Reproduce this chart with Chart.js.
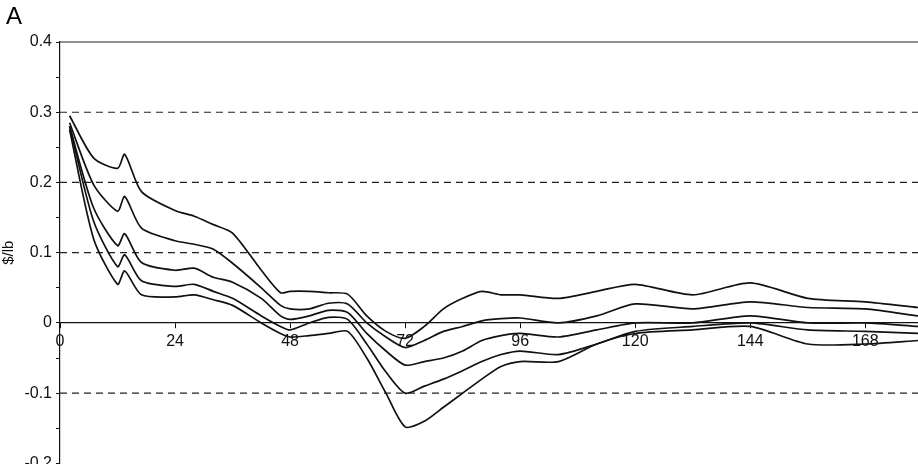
<!DOCTYPE html>
<html>
<head>
<meta charset="utf-8">
<script src="https://cdn.jsdelivr.net/npm/chart.js@4"></script>
<style>
  html, body { margin: 0; padding: 0; background: #fff; overflow: hidden; }
  #wrap { position: relative; width: 918px; height: 464px; overflow: hidden; }
  #lbl { position: absolute; left: 6px; top: 2px; font: 24px "Liberation Sans", Arial, sans-serif; }
</style>
</head>
<body>
<div id="wrap">
  <div id="lbl">A</div>
  <canvas id="c" width="918" height="477"></canvas>
</div>
<script>
const hours = [2, 7, 12, 13.5, 17, 24, 28, 32, 36, 42, 46, 48, 52, 56, 60, 64, 68, 72, 76, 80, 84, 88, 92, 96, 104, 112, 120, 132, 144, 156, 168, 179];
const s1 = [0.295, 0.235, 0.22, 0.24, 0.187, 0.16, 0.152, 0.14, 0.128, 0.075, 0.043, 0.045, 0.045, 0.043, 0.041, 0.01, -0.012, -0.022, -0.005, 0.02, 0.035, 0.045, 0.04, 0.04, 0.035, 0.045, 0.055, 0.04, 0.057, 0.035, 0.03, 0.022];
const s2 = [0.285, 0.197, 0.159, 0.18, 0.135, 0.117, 0.112, 0.105, 0.085, 0.05, 0.025, 0.02, 0.02, 0.028, 0.027, 0.0, -0.02, -0.035, -0.025, -0.012, -0.005, 0.003, 0.006, 0.007, 0.0, 0.01, 0.027, 0.02, 0.03, 0.022, 0.02, 0.01];
const s3 = [0.28, 0.164, 0.11, 0.127, 0.086, 0.075, 0.078, 0.065, 0.058, 0.035, 0.01, 0.005, 0.01, 0.018, 0.015, -0.015, -0.04, -0.06, -0.055, -0.05, -0.04, -0.025, -0.018, -0.015, -0.02, -0.01, 0.0, 0.0, 0.01, 0.0, 0.0, -0.005];
const s4 = [0.28, 0.145, 0.08, 0.097, 0.06, 0.052, 0.055, 0.045, 0.035, 0.01, -0.005, -0.01, 0.0, 0.008, 0.005, -0.03, -0.07, -0.1, -0.09, -0.08, -0.068, -0.055, -0.045, -0.04, -0.045, -0.03, -0.012, -0.005, 0.0, -0.01, -0.012, -0.015];
const s5 = [0.275, 0.12, 0.055, 0.074, 0.04, 0.037, 0.04, 0.033, 0.025, 0.0, -0.015, -0.02, -0.018, -0.015, -0.012, -0.05, -0.1, -0.148, -0.14, -0.12, -0.1, -0.08, -0.062, -0.055, -0.055, -0.03, -0.015, -0.01, -0.005, -0.03, -0.03, -0.025];
const xTicks = [0, 24, 48, 72, 96, 120, 144, 168];
const dashedAt = [0.3, 0.2, 0.1, -0.1];

const font = { family: '"Liberation Sans", Arial, sans-serif', size: 16 };

function mk(vals) {
  return {
    data: hours.map((h, i) => ({ x: h, y: vals[i] })),
    borderColor: '#111',
    borderWidth: 1.7,
    pointRadius: 0,
    tension: 0.25,
    fill: false
  };
}

const gridLines = {
  id: 'gridLines',
  beforeDatasetsDraw(chart) {
    const { ctx, chartArea: a, scales: { y } } = chart;
    ctx.save();
    ctx.strokeStyle = '#222';
    ctx.lineWidth = 1.2;
    ctx.setLineDash([7, 5]);
    dashedAt.forEach(v => {
      const py = y.getPixelForValue(v);
      ctx.beginPath(); ctx.moveTo(a.left, py); ctx.lineTo(a.right, py); ctx.stroke();
    });
    ctx.setLineDash([]);
    const top = y.getPixelForValue(0.4);
    ctx.beginPath(); ctx.moveTo(a.left, top); ctx.lineTo(a.right, top); ctx.stroke();
    ctx.restore();
  }
};

new Chart(document.getElementById('c'), {
  type: 'line',
  data: { datasets: [mk(s1), mk(s2), mk(s3), mk(s4), mk(s5)] },
  plugins: [gridLines],
  options: {
    responsive: false,
    animation: false,
    layout: { padding: { top: 42, right: 0, bottom: 0, left: 0 } },
    plugins: { legend: { display: false }, tooltip: { enabled: false } },
    scales: {
      x: {
        type: 'linear',
        min: 0,
        max: 179,
        position: { y: 0 },
        afterBuildTicks: s => { s.ticks = xTicks.map(v => ({ value: v })); },
        ticks: { color: '#111', font: font, padding: 4, maxRotation: 0 },
        grid: { display: true, drawOnChartArea: false, tickLength: 5, color: '#111' },
        border: { color: '#111', width: 1.2 }
      },
      y: {
        min: -0.2,
        max: 0.4,
        afterFit: s => { s.width = 60; },
        ticks: {
          stepSize: 0.05,
          color: '#111',
          font: font,
          padding: 4,
          callback: v => {
            const r = Math.round(v * 100);
            if (r % 10 !== 0) return '';
            return r === 0 ? '0' : (v).toFixed(1);
          }
        },
        grid: { display: true, drawOnChartArea: false, tickLength: 4, color: '#111' },
        border: { color: '#111', width: 1.2 },
        title: { display: true, text: '$/lb', color: '#111', font: { family: font.family, size: 15 }, padding: 0 }
      }
    }
  }
});
</script>
</body>
</html>
